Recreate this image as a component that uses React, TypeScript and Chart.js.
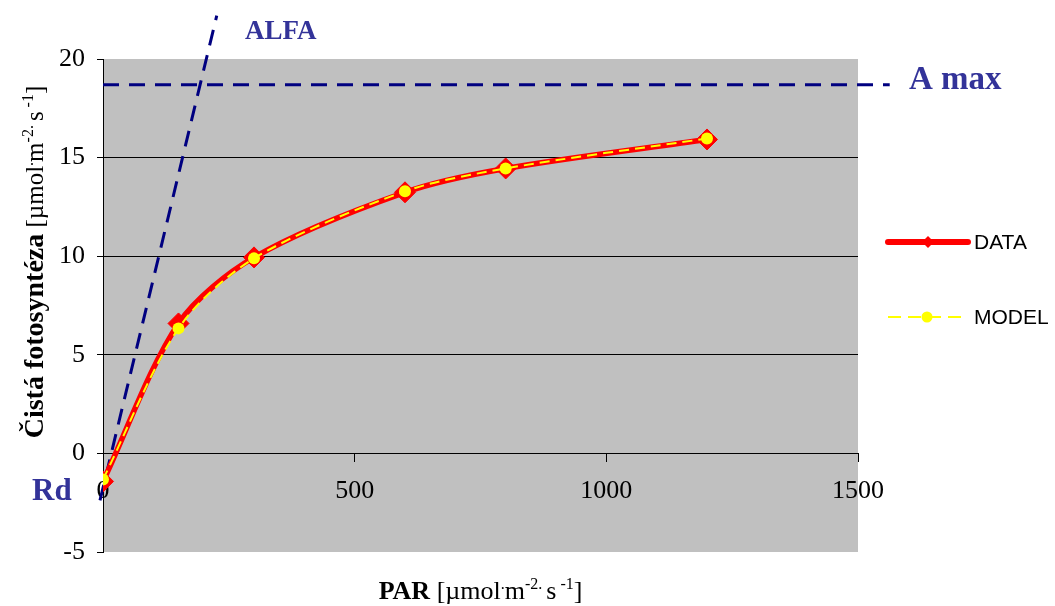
import React, { useEffect, useRef } from 'react';
import { Chart, registerables } from 'chart.js';

Chart.register(...registerables);

// ---- data ----
const parValues = [0, 150, 300, 600, 800, 1200];
const dataValues = [-1.42, 6.59, 9.94, 13.24, 14.45, 15.92];
const modelValues = [-1.32, 6.34, 9.89, 13.29, 14.45, 15.97];
const alfaX = [-6, 226];
const alfaY = [-2.38, 22.2];
const amaxX = [0, 1563];
const amaxY = [18.7, 18.7];
const xTicks = [0, 500, 1000, 1500];
const yTicks = [-5, 0, 5, 10, 15, 20];
const seriesNames = ['DATA', 'MODEL'];
const annotationLabels = ['ALFA', 'A max', 'Rd'];

const SERIF = '"Liberation Serif", "Times New Roman", serif';
const SANS = '"Liberation Sans", Arial, sans-serif';
const NAVY = '#000080';
const LABEL_BLUE = '#333399';

type Part = { t: string; b?: boolean; sup?: boolean };

const titleParts = (main: string): Part[] => [
  { t: main, b: true },
  { t: ' [µmol' },
  { t: '.', sup: true },
  { t: 'm' },
  { t: '-2. ', sup: true },
  { t: 's' },
  { t: ' -1', sup: true },
  { t: ']' },
];

function partFont(p: Part, size: number, boldSize: number) {
  const s = p.sup ? Math.round(size * 0.62) : p.b ? boldSize : size;
  return `${p.b ? 'bold ' : ''}${s}px ${SERIF}`;
}
function measureParts(ctx: CanvasRenderingContext2D, parts: Part[], size: number, boldSize: number) {
  let w = 0;
  for (const p of parts) {
    ctx.font = partFont(p, size, boldSize);
    w += ctx.measureText(p.t).width;
  }
  return w;
}
function drawParts(
  ctx: CanvasRenderingContext2D,
  parts: Part[],
  x: number,
  y: number,
  size: number,
  boldSize: number
) {
  let cx = x;
  ctx.textAlign = 'left';
  ctx.textBaseline = 'alphabetic';
  for (const p of parts) {
    ctx.font = partFont(p, size, boldSize);
    ctx.fillText(p.t, cx, p.sup ? y - size * 0.4 : y);
    cx += ctx.measureText(p.t).width;
  }
}

const bgPlugin = {
  id: 'plotBg',
  beforeDraw(chart: any) {
    const { ctx, chartArea: a } = chart;
    ctx.save();
    ctx.fillStyle = '#C0C0C0';
    ctx.fillRect(a.left, a.top, a.right - a.left, a.bottom - a.top);
    ctx.restore();
  },
};

const textPlugin = {
  id: 'texts',
  afterDraw(chart: any) {
    const ctx: CanvasRenderingContext2D = chart.ctx;
    const a = chart.chartArea;
    ctx.save();
    ctx.fillStyle = '#000';
    // x title
    const xParts = titleParts('PAR');
    const xw = measureParts(ctx, xParts, 26, 26);
    drawParts(ctx, xParts, (a.left + a.right) / 2 - xw / 2, 599, 26, 26);
    // y title
    const yParts = titleParts('Čistá fotosyntéza');
    const yw = measureParts(ctx, yParts, 25, 28);
    ctx.save();
    ctx.translate(43, 262);
    ctx.rotate(-Math.PI / 2);
    drawParts(ctx, yParts, -yw / 2, 0, 25, 28);
    ctx.restore();

    // annotation labels
    ctx.fillStyle = LABEL_BLUE;
    ctx.textAlign = 'left';
    ctx.textBaseline = 'alphabetic';
    ctx.font = `bold 27px ${SERIF}`;
    ctx.fillText(annotationLabels[0], 245, 39);
    ctx.font = `bold 33px ${SERIF}`;
    ctx.fillText(annotationLabels[1], 909, 89);
    ctx.font = `bold 31px ${SERIF}`;
    ctx.fillText(annotationLabels[2], 32, 500);

    // legend
    const lx1 = 888, lx2 = 968, tx = 974;
    // DATA
    let ly = 242;
    ctx.strokeStyle = '#FF0000';
    ctx.lineWidth = 6;
    ctx.lineCap = 'round';
    ctx.setLineDash([]);
    ctx.beginPath();
    ctx.moveTo(lx1, ly);
    ctx.lineTo(lx2, ly);
    ctx.stroke();
    ctx.fillStyle = '#FF0000';
    const cxm = (lx1 + lx2) / 2;
    ctx.beginPath();
    ctx.moveTo(cxm - 6, ly);
    ctx.lineTo(cxm, ly - 6);
    ctx.lineTo(cxm + 6, ly);
    ctx.lineTo(cxm, ly + 6);
    ctx.closePath();
    ctx.fill();
    ctx.fillStyle = '#000';
    ctx.font = `21px ${SANS}`;
    ctx.textBaseline = 'middle';
    ctx.fillText(seriesNames[0], tx, ly + 1);
    // MODEL
    ly = 317;
    ctx.strokeStyle = '#FFFF00';
    ctx.lineWidth = 2;
    ctx.lineCap = 'butt';
    ctx.setLineDash([13, 7]);
    ctx.beginPath();
    ctx.moveTo(lx1, ly);
    ctx.lineTo(lx2, ly);
    ctx.stroke();
    ctx.setLineDash([]);
    ctx.fillStyle = '#FFFF00';
    ctx.beginPath();
    ctx.arc(cxm - 1, ly, 5.5, 0, Math.PI * 2);
    ctx.fill();
    ctx.fillStyle = '#000';
    ctx.fillText(seriesNames[1], tx, ly + 1);
    ctx.restore();
  },
};

export default function App() {
  const ref = useRef<HTMLCanvasElement>(null);
  useEffect(() => {
    if (!ref.current) return;
    const chart = new Chart(ref.current, {
      type: 'line',
      data: {
        datasets: [
          {
            label: seriesNames[1],
            data: parValues.map((x, i) => ({ x, y: modelValues[i] })),
            borderColor: '#FFFF00',
            borderWidth: 2,
            borderDash: [10, 6],
            pointStyle: 'circle',
            pointRadius: 6,
            pointBackgroundColor: '#FFFF00',
            pointBorderColor: '#FFFF00',
            pointBorderWidth: 0,
            tension: 0.3,
            order: 0,
          } as any,
          {
            label: seriesNames[0],
            data: parValues.map((x, i) => ({ x, y: dataValues[i] })),
            borderColor: '#FF0000',
            borderWidth: 5.5,
            pointStyle: 'rectRot',
            pointRadius: 10.5,
            pointBackgroundColor: '#FF0000',
            pointBorderColor: '#FF0000',
            pointBorderWidth: 1,
            tension: 0.3,
            order: 1,
          },
          {
            label: 'ALFA',
            data: alfaX.map((x, i) => ({ x, y: alfaY[i] })),
            borderColor: NAVY,
            borderWidth: 3,
            borderDash: [16, 10],
            pointRadius: 0,
            clip: false,
            order: 2,
          } as any,
          {
            label: 'A max',
            data: amaxX.map((x, i) => ({ x, y: amaxY[i] })),
            borderColor: NAVY,
            borderWidth: 3,
            borderDash: [16, 10],
            pointRadius: 0,
            clip: false,
            order: 2,
          } as any,
        ],
      },
      options: {
        animation: false,
        responsive: false,
        devicePixelRatio: 1,
        layout: { padding: { left: 0, right: 197, top: 59, bottom: 54 } },
        plugins: { legend: { display: false }, tooltip: { enabled: false } },
        scales: {
          x: {
            type: 'linear',
            position: { y: 0 } as any,
            min: 0,
            max: 1500,
            afterBuildTicks: (s: any) => {
              s.ticks = xTicks.map((v) => ({ value: v }));
            },
            grid: { drawOnChartArea: false, drawTicks: true, tickLength: 8, tickColor: '#000' },
            border: { display: true, color: '#000', width: 1 },
            ticks: {
              font: { family: SERIF, size: 26 },
              color: '#000',
              padding: 14,
              maxRotation: 0,
              autoSkip: false,
              callback: (v: any) => String(v),
            },
          },
          y: {
            type: 'linear',
            min: -5,
            max: 20,
            afterBuildTicks: (s: any) => {
              s.ticks = yTicks.map((v) => ({ value: v }));
            },
            afterFit: (s: any) => {
              s.width = 103;
            },
            grid: {
              color: (c: any) =>
                c.tick && (c.tick.value === 20 || c.tick.value === -5) ? 'rgba(0,0,0,0)' : '#000',
              lineWidth: 1,
              tickLength: 6,
              tickColor: '#000',
            },
            border: { display: true, color: '#000', width: 1 },
            ticks: {
              font: { family: SERIF, size: 26 },
              color: '#000',
              padding: 12,
              autoSkip: false,
              callback: (v: any) => String(v),
            },
          },
        },
      },
      plugins: [bgPlugin, textPlugin],
    });
    return () => chart.destroy();
  }, []);
  return (
    <canvas
      ref={ref}
      width={1055}
      height={606}
      style={{ position: 'fixed', left: 0, top: 0, width: 1055, height: 606 }}
    />
  );
}
